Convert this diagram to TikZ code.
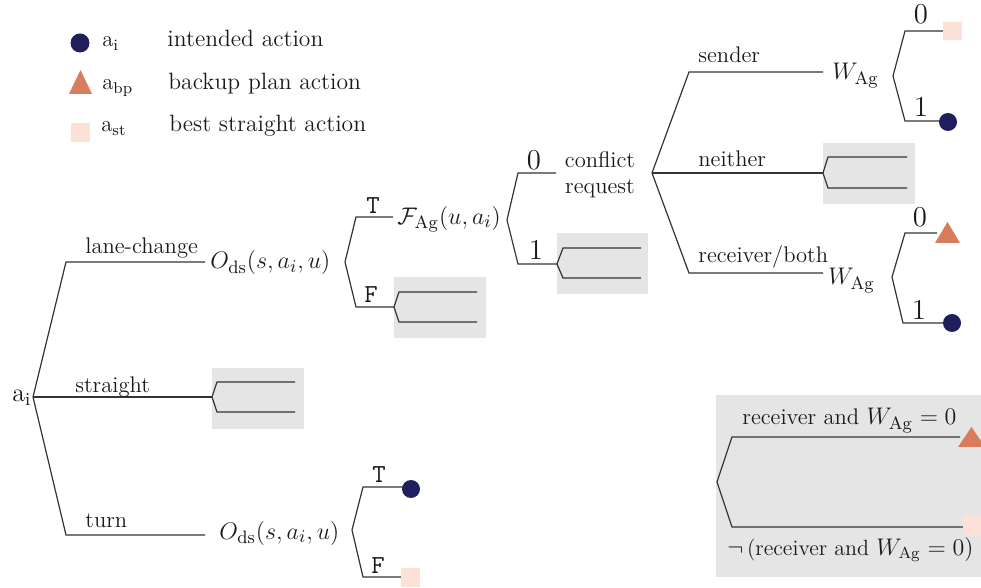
\documentclass[tikz,border=0pt]{standalone}
\usepackage{amsmath}
\definecolor{navy}{HTML}{1F1F5E}
\definecolor{coral}{HTML}{D87C5B}
\definecolor{peach}{HTML}{FBE1D6}
\definecolor{boxgray}{HTML}{E5E5E5}
\definecolor{linegray}{HTML}{333333}
\definecolor{ink}{HTML}{1A1A1A}
\newcommand\txtsize{\fontsize{11.3}{14}\selectfont}
\newcommand\mthsize{\fontsize{12.5}{15}\selectfont}
\newcommand\bigmth{\fontsize{13.2}{16}\selectfont}
\newcommand\digsize{\fontsize{13.5}{16}\selectfont}
\tikzset{
  branch/.style={draw=linegray, line width=0.6pt},
  greybox/.style={fill=boxgray, draw=none},
  lbl/.style={anchor=base west, inner sep=0pt, font=\txtsize, text=ink},
  mth/.style={anchor=west, inner sep=0pt, font=\bigmth, text=ink},
  mthb/.style={anchor=base west, inner sep=0pt, font=\bigmth, text=ink},
  dig/.style={anchor=base, inner sep=0pt, font=\digsize, text=ink},
  tf/.style={anchor=base, inner sep=0pt, font=\fontsize{13}{15}\selectfont\ttfamily, text=ink},
  intended/.style={fill=navy, draw=none},
  backup/.style={fill=coral, draw=none},
  straightact/.style={fill=peach, draw=none},
}
\begin{document}
\begin{tikzpicture}[x=0.5pt, y=-0.5pt]
\useasboundingbox (0,0) rectangle (981,588);

% ---------- shaded sub-trees ----------
\fill[greybox] (394,277) rectangle (486,338);
\fill[greybox] (557,233) rectangle (648,294);
\fill[greybox] (823,143) rectangle (915,204);
\fill[greybox] (212,368) rectangle (304,429);
\fill[greybox] (716,395) rectangle (990,577);

% ---------- legend ----------
\fill[intended] (80,43) circle (9.5);
\node[lbl] (lgA) at (102,47) {a\textsubscript{i}};
\node[lbl, font=\fontsize{11.8}{14}\selectfont] (lgAt) at (167,47) {intended action};
\fill[backup] (69,94) -- (92,94) -- (80.5,70) -- cycle;
\node[lbl] (lgB) at (102,90) {a\textsubscript{bp}};
\node[lbl, font=\fontsize{11.8}{14}\selectfont] (lgBt) at (168,90) {backup plan action};
\fill[straightact] (71,123) rectangle (90,142);
\node[lbl] (lgC) at (101,132) {a\textsubscript{st}};
\node[lbl, font=\fontsize{11.8}{14}\selectfont] (lgCt) at (169,132) {best straight action};

% ---------- root ----------
\node[lbl, font=\fontsize{13}{15}\selectfont] (root) at (12,402) {a\textsubscript{i}};
\coordinate (r0) at (33,397);

% lane-change branch
\coordinate (lc1) at (66,262);
\coordinate (lc2) at (205,262);
\draw[branch] (r0) -- (lc1) -- (lc2);
\node[lbl] (lcL) at (85,254) {lane-change};
\node[mth] (od1) at (210,263) {$O_{\mathrm{ds}}(s,a_i,u)$};

\coordinate (v1) at (345,262);
\coordinate (v1t) at (356,217);
\coordinate (v1te) at (393,217);
\coordinate (v1f) at (356,307);
\coordinate (v1fe) at (394,307);
\draw[branch] (v1te) -- (v1t) -- (v1) -- (v1f) -- (v1fe);
\node[tf] (t1) at (373,214) {T};
\node[tf] (f1) at (371,303) {F};
\draw[branch] (477,292) -- (399,292) -- (v1fe) -- (399,322) -- (477,322);

\node[mth, font=\mthsize] (fag) at (397,219) {$\mathcal{F}_{\mathrm{Ag}}(u,a_i)$};
\coordinate (v2) at (507,220);
\coordinate (v2a) at (518,173);
\coordinate (v2ae) at (556,173);
\coordinate (v2b) at (518,264);
\coordinate (v2be) at (557,264);
\draw[branch] (v2ae) -- (v2a) -- (v2) -- (v2b) -- (v2be);
\node[dig] (d20) at (534,170) {$0$};
\node[dig] (d21) at (536,260) {$1$};
\draw[branch] (641,248) -- (563,248) -- (v2be) -- (563,278) -- (641,278);

\node[align=center, inner sep=0pt, font=\txtsize, text=ink] (conf) at (600,175)
  {conflict\\[-1pt]request};
\coordinate (v3) at (652,173);
\coordinate (snd1) at (689,72);
\coordinate (snd2) at (823,72);
\coordinate (nei) at (823,173);
\coordinate (rcv1) at (689,273);
\coordinate (rcv2) at (823,273);
\draw[branch] (snd2) -- (snd1) -- (v3) -- (rcv1) -- (rcv2);
\draw[branch] (v3) -- (nei);
\node[lbl] (sndL) at (698,63) {sender};
\node[lbl] (neiL) at (698,167) {neither};
\node[lbl] (rcvL) at (698,263) {receiver/both};
\draw[branch] (907,157) -- (828,157) -- (nei) -- (828,188) -- (907,188);

% sender: W_Ag
\node[mthb] (w1) at (832,80) {$W_{\mathrm{Ag}}$};
\coordinate (v4) at (893,76);
\coordinate (v4a) at (905,31);
\coordinate (v4ae) at (943,31);
\coordinate (v4b) at (905,121);
\coordinate (v4be) at (942,121);
\draw[branch] (v4ae) -- (v4a) -- (v4) -- (v4b) -- (v4be);
\node[dig] (d40) at (921,24) {$0$};
\node[dig] (d41) at (921,117) {$1$};
\fill[straightact] (943,22) rectangle (962,40);
\fill[intended] (948,122) circle (9);

% receiver/both: W_Ag
\node[mthb] (w2) at (828,285) {$W_{\mathrm{Ag}}$};
\coordinate (v5) at (892,277);
\coordinate (v5a) at (905,233);
\coordinate (v5ae) at (937,233);
\coordinate (v5b) at (903,323);
\coordinate (v5be) at (945,323);
\draw[branch] (v5ae) -- (v5a) -- (v5) -- (v5b) -- (v5be);
\node[dig] (d50) at (920,227) {$0$};
\node[dig] (d51) at (919,320) {$1$};
\fill[backup] (935,243) -- (960,243) -- (947.5,222) -- cycle;
\fill[intended] (952,323) circle (9);

% straight branch
\coordinate (st) at (212,397);
\draw[branch] (r0) -- (st);
\node[lbl] (stL) at (75,393) {straight};
\draw[branch] (295,382) -- (217,382) -- (st) -- (217,412) -- (295,412);

% turn branch
\coordinate (tu1) at (66,535);
\coordinate (tu2) at (205,535);
\draw[branch] (r0) -- (tu1) -- (tu2);
\node[lbl] (tuL) at (85,528) {turn};
\node[mth] (od2) at (219,533) {$O_{\mathrm{ds}}(s,a_i,u)$};
\coordinate (v6) at (352,530);
\coordinate (v6t) at (363,487);
\coordinate (v6te) at (403,487);
\coordinate (v6f) at (363,577);
\coordinate (v6fe) at (401,577);
\draw[branch] (v6te) -- (v6t) -- (v6) -- (v6f) -- (v6fe);
\node[tf] (t6) at (379,482) {T};
\node[tf] (f6) at (378,574) {F};
\fill[intended] (411,489) circle (9);
\fill[straightact] (401,568) rectangle (420,587);

% ---------- outcome key ----------
\coordinate (v7) at (717,482);
\coordinate (v7a) at (732,437);
\coordinate (v7ae) at (960,437);
\coordinate (v7b) at (732,527);
\coordinate (v7be) at (963,527);
\draw[branch] (v7ae) -- (v7a) -- (v7) -- (v7b) -- (v7be);
\node[lbl] (k1) at (742,425) {receiver and \mthsize$W_{\mathrm{Ag}}=0$};
\node[lbl, font=\fontsize{11}{14}\selectfont] (k2) at (727,555) {\mthsize$\neg$\fontsize{11}{14}\selectfont\,(receiver and \fontsize{12}{14}\selectfont$W_{\mathrm{Ag}}=0$)};
\fill[backup] (958,447) -- (985,447) -- (971.5,427) -- cycle;
\fill[straightact] (963,516) rectangle (985,535);
\end{tikzpicture}
\end{document}
